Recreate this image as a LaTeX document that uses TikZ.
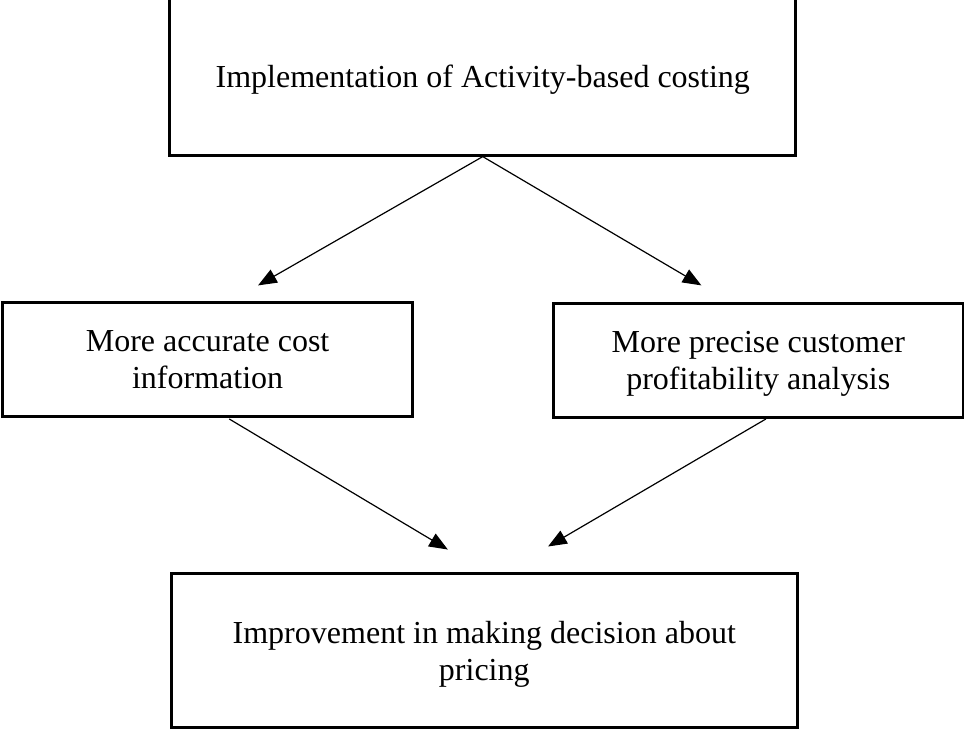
\documentclass[tikz,border=0pt]{standalone}
\usepackage{fontspec}
\setmainfont{Liberation Serif}
\usetikzlibrary{arrows.meta, positioning}
\tikzset{
  box/.style = {draw=black, line width=1.1pt, align=center, inner sep=0pt,
    text centered, text depth=0pt, font=\fontsize{12}{13.8}\selectfont},
  wide/.style = {box, minimum width=8.25cm},
  half/.style = {box, minimum width=5.4cm, minimum height=1.5cm},
  link/.style = {-{Triangle[length=7pt, width=5.5pt]}, line width=0.45pt}
}

\begin{document}
\begin{tikzpicture}
\useasboundingbox (0,0) rectangle (12.70,9.62);

% boxes
\node [wide, minimum height=2.08cm] (abc) at (6.36,8.616) {Implementation of Activity-based costing};
\node [half] (cost) at (2.735,4.888) {More accurate cost\\ information};
\node [half] (profit) at (9.99,4.875) {More precise customer\\ profitability analysis};
\node [wide, minimum height=2.04cm] (pricing) at (6.38,1.05) {Improvement in making decision about\\ pricing};

% arrow ends stop short of the boxes
\coordinate (costtip) at (3.40,5.86);
\coordinate (profittip) at (9.24,5.86);
\coordinate (costfoot) at (3.02,4.10);
\coordinate (profitfoot) at (10.09,4.10);
\coordinate (lefttip) at (5.90,2.38);
\coordinate (righttip) at (7.22,2.42);

\draw [link] (abc.south) -- (costtip);
\draw [link] (abc.south) -- (profittip);
\draw [link] (costfoot) -- (lefttip);
\draw [link] (profitfoot) -- (righttip);
\end{tikzpicture}
\end{document}
